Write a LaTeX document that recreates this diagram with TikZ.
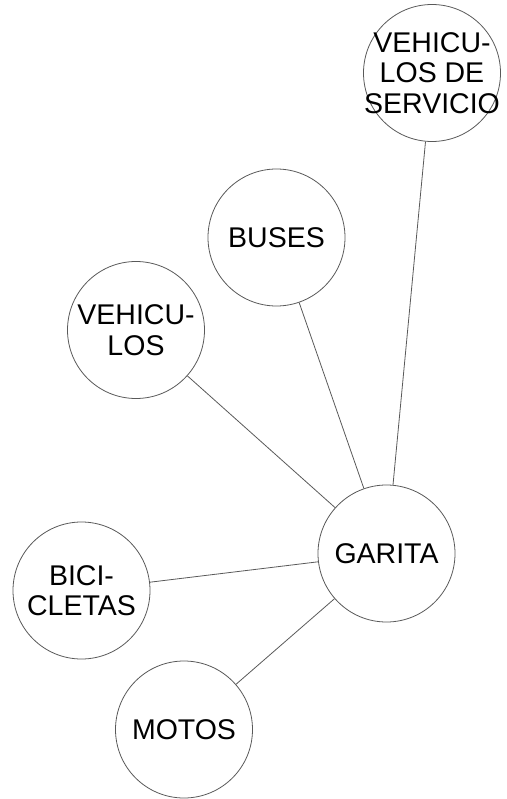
\documentclass[tikz,border=0pt]{standalone}
\usepackage{fontspec}
\setmainfont{Liberation Sans}
\begin{document}
\begin{tikzpicture}[x=1pt,y=-1pt,
  bubble/.style={circle,draw=black!65,line width=0.8pt,minimum size=137pt,inner sep=0pt},
  lbl/.style={align=center,inner sep=0pt,font=\fontsize{28.5}{30.5}\selectfont},
  link/.style={draw=black!65,line width=0.8pt}]
\useasboundingbox (0,0) rectangle (506,799);
\node[bubble] (srv) at (432,73) {};
\node[bubble] (bus) at (276.5,237.5) {};
\node[bubble] (veh) at (136,330) {};
\node[bubble] (gar) at (386.5,553.5) {};
\node[bubble] (bic) at (81.5,590.5) {};
\node[bubble] (mot) at (184,729.5) {};
\node[lbl] (tsrv) at (srv) {VEHICU-\\LOS DE\\SERVICIO};
\node[lbl] (tbus) at (bus) {BUSES};
\node[lbl] (tveh) at (veh) {VEHICU-\\LOS};
\node[lbl] (tgar) at (gar) {GARITA};
\node[lbl] (tbic) at (bic) {BICI-\\CLETAS};
\node[lbl] (tmot) at (mot) {MOTOS};
\draw[link] (srv) -- (gar);
\draw[link] (bus) -- (gar);
\draw[link] (veh) -- (gar);
\draw[link] (bic) -- (gar);
\draw[link] (mot) -- (gar);
\end{tikzpicture}
\end{document}
